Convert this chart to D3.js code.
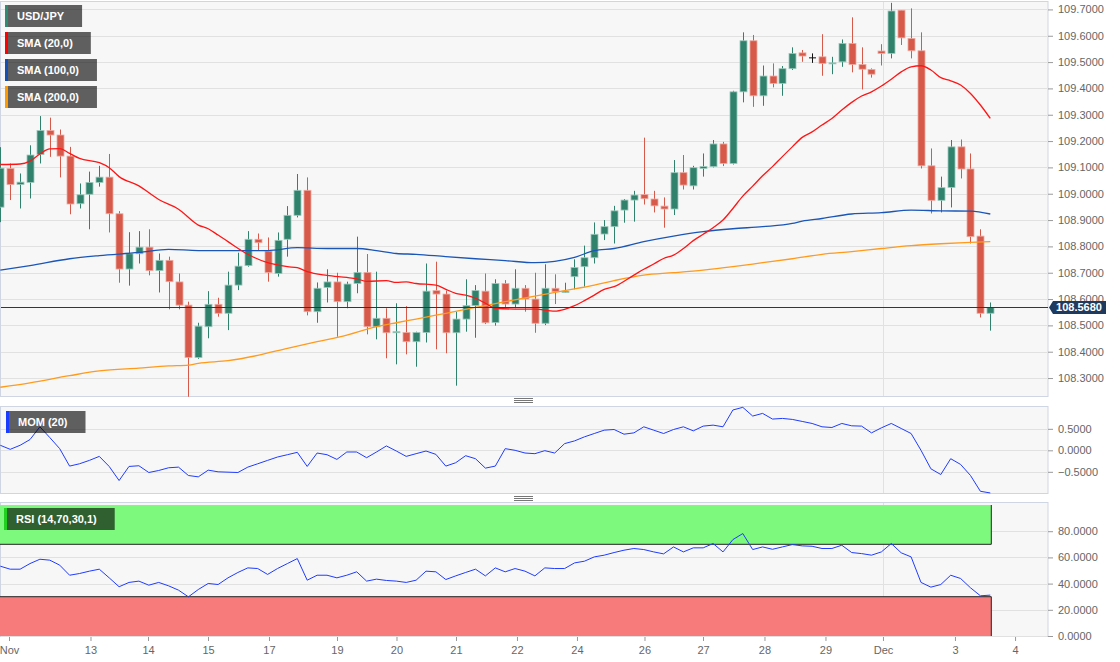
<!DOCTYPE html>
<html>
<head>
<meta charset="utf-8">
<script src="https://d3js.org/d3.v7.min.js"></script>
<style>
body { margin: 0; background: #fff; }
svg text { font-family: "Liberation Sans", Arial, sans-serif; }
</style>
</head>
<body>
<div id="chart"></div>
<script>

// ---- data (4h candles, index 0..100) ----
var opens  = [108.949,109.096,109.035,109.043,109.149,109.240,109.223,109.143,108.962,108.998,
              109.043,109.063,108.924,108.714,108.772,108.797,108.708,108.747,108.665,108.577,
              108.378,108.495,108.580,108.546,108.653,108.727,108.827,108.782,108.697,108.827,
              108.918,109.013,108.552,108.644,108.665,108.590,108.659,108.701,108.495,108.527,
              108.472,108.473,108.438,108.473,108.632,108.619,108.472,108.524,108.575,108.630,
              108.511,108.659,108.581,108.641,108.600,108.508,108.641,108.625,108.685,108.723,
              108.757,108.847,108.875,108.938,108.976,108.997,108.980,108.953,108.942,109.080,
              109.030,109.096,109.103,109.189,109.115,109.387,109.581,109.372,109.447,109.419,
              109.475,109.535,109.518,109.520,109.495,109.501,109.571,109.491,109.472,109.542,
              109.533,109.697,109.590,109.543,109.106,108.975,109.024,109.178,109.094,108.839,
              108.546];
var highs  = [109.177,109.115,109.077,109.184,109.295,109.289,109.244,109.178,109.039,109.084,
              109.106,109.151,108.934,108.854,108.858,108.865,108.773,108.761,108.697,108.590,
              108.510,108.630,108.605,108.704,108.776,108.858,108.849,108.834,108.853,108.953,
              109.075,109.062,108.663,108.713,108.700,108.666,108.837,108.771,108.704,108.565,
              108.584,108.573,108.476,108.735,108.742,108.632,108.552,108.675,108.653,108.697,
              108.675,108.672,108.713,108.653,108.700,108.732,108.694,108.662,108.751,108.803,
              108.891,108.900,108.954,108.980,109.011,109.213,109.011,108.986,109.128,109.147,
              109.106,109.153,109.204,109.197,109.391,109.613,109.603,109.487,109.495,109.485,
              109.556,109.546,109.533,109.606,109.520,109.586,109.670,109.556,109.476,109.568,
              109.725,109.697,109.704,109.613,109.172,109.065,109.204,109.206,109.153,108.865,
              108.587];
var lows   = [108.892,108.976,108.944,108.982,109.115,109.140,109.062,108.922,108.944,108.865,
              109.027,108.853,108.662,108.651,108.735,108.690,108.625,108.561,108.561,108.229,
              108.373,108.451,108.533,108.482,108.634,108.723,108.786,108.666,108.685,108.761,
              108.910,108.538,108.510,108.587,108.457,108.565,108.622,108.466,108.447,108.375,
              108.352,108.390,108.343,108.435,108.409,108.394,108.271,108.476,108.453,108.505,
              108.499,108.565,108.565,108.552,108.472,108.501,108.581,108.624,108.637,108.647,
              108.735,108.824,108.811,108.890,108.894,108.959,108.929,108.871,108.919,109.016,
              109.016,109.065,109.100,109.105,109.111,109.347,109.330,109.334,109.404,109.372,
              109.470,109.501,109.497,109.448,109.454,109.482,109.461,109.396,109.441,109.487,
              109.514,109.565,109.514,109.096,108.925,108.929,108.948,109.058,108.811,108.530,
              108.480];
var closes = [109.097,109.035,109.044,109.147,109.240,109.223,109.143,108.961,108.996,109.043,
              109.063,108.924,108.714,108.772,108.797,108.708,108.747,108.666,108.577,108.378,
              108.497,108.580,108.546,108.653,108.725,108.827,108.814,108.701,108.823,108.918,
              109.013,108.552,108.641,108.665,108.590,108.657,108.701,108.495,108.527,108.472,
              108.476,108.438,108.473,108.630,108.619,108.472,108.524,108.575,108.632,108.510,
              108.659,108.581,108.641,108.600,108.508,108.641,108.628,108.630,108.720,108.757,
              108.846,108.875,108.935,108.976,108.995,108.981,108.954,108.942,109.080,109.033,
              109.099,109.103,109.189,109.115,109.387,109.581,109.372,109.447,109.419,109.475,
              109.533,109.523,109.518,109.495,109.497,109.571,109.491,109.473,109.454,109.533,
              109.694,109.592,109.543,109.106,108.975,109.023,109.178,109.094,108.837,108.546,
              108.568];

// moving averages as [candle index, value]
var sma20 = [[0,109.111],[2,109.113],[3,109.124],[4,109.151],[5,109.170],[6,109.171],[7,109.153],[8,109.134],
             [10,109.118],[11,109.099],[12,109.065],[14,109.030],[16,108.978],[18,108.941],[20,108.881],
             [21,108.867],[22,108.843],[23,108.818],[25,108.770],[27,108.738],[29,108.723],[30,108.719],
             [31,108.704],[33,108.690],[35,108.682],[36,108.677],[37,108.667],[39,108.670],[40,108.663],
             [41,108.665],[42,108.659],[44,108.653],[45,108.637],[46,108.622],[47,108.615],[48,108.603],
             [49,108.584],[50,108.565],[52,108.562],[54,108.562],[56,108.554],[57,108.561],[58,108.575],
             [59,108.594],[60,108.615],[61,108.637],[62,108.647],[64,108.691],[65,108.713],[66,108.733],
             [67,108.754],[68,108.767],[69,108.792],[70,108.822],[71,108.846],[72,108.871],[73,108.900],
             [74,108.944],[75,108.991],[76,109.029],[77,109.068],[78,109.103],[79,109.141],[80,109.178],
             [81,109.214],[82,109.235],[83,109.261],[84,109.286],[85,109.318],[86,109.347],[87,109.371],
             [88,109.387],[89,109.409],[90,109.435],[91,109.463],[92,109.482],[93,109.486],[94,109.470],
             [95,109.441],[96,109.429],[97,109.413],[98,109.381],[99,109.337],[100,109.286]];
var sma100 = [[0,108.710],[3,108.727],[7,108.753],[10,108.765],[14,108.777],[17,108.789],[20,108.784],
              [23,108.784],[27,108.784],[30,108.795],[33,108.792],[36,108.792],[38,108.784],[40,108.773],
              [42,108.770],[45,108.761],[48,108.753],[51,108.746],[54,108.738],[56,108.743],[58,108.758],
              [60,108.784],[62,108.792],[65,108.818],[68,108.839],[71,108.856],[74,108.867],[77,108.875],
              [80,108.887],[81,108.896],[83,108.906],[86,108.923],[89,108.928],[92,108.938],[95,108.935],
              [98,108.934],[100,108.923]];
var sma200 = [[0,108.265],[3,108.282],[7,108.309],[10,108.327],[14,108.338],[17,108.346],[19,108.349],
              [20,108.356],[23,108.366],[26,108.386],[29,108.413],[32,108.438],[35,108.463],[38,108.495],
              [40,108.510],[42,108.524],[45,108.546],[48,108.568],[51,108.590],[54,108.611],[57,108.632],
              [60,108.653],[62,108.670],[65,108.691],[68,108.700],[71,108.710],[74,108.723],[77,108.738],
              [80,108.753],[83,108.770],[86,108.780],[89,108.792],[92,108.803],[95,108.810],[98,108.815],
              [100,108.818]];

var mom = [0.117,0.023,0.117,0.25,0.547,0.297,0.039,-0.367,-0.313,-0.234,
           -0.141,-0.375,-0.703,-0.375,-0.359,-0.516,-0.469,-0.406,-0.391,-0.586,
           -0.617,-0.461,-0.5,-0.508,-0.516,-0.391,-0.313,-0.234,-0.156,-0.102,
           -0.047,-0.375,-0.063,-0.102,-0.211,-0.039,-0.039,-0.172,-0.039,0.102,
           -0.016,-0.141,-0.078,-0.016,-0.094,-0.367,-0.289,-0.125,-0.195,-0.414,
           -0.367,0.039,0,-0.063,-0.078,-0.008,-0.063,0.156,0.219,0.313,
           0.391,0.469,0.484,0.375,0.406,0.547,0.469,0.391,0.484,0.547,
           0.453,0.563,0.586,0.547,0.938,1.0,0.797,0.859,0.727,0.742,
           0.719,0.672,0.625,0.547,0.531,0.625,0.570,0.563,0.406,0.523,
           0.625,0.508,0.391,0,-0.43,-0.563,-0.195,-0.328,-0.586,-0.953,
           -0.992];
var rsi = [53.3,51.0,51.0,55.3,58.6,57.9,54.1,46.4,47.7,49.5,
           51.0,44.4,37.6,40.9,41.9,38.8,40.9,38.3,35.0,29.9,
           35.5,40.1,39.3,44.4,48.5,52.0,51.5,47.0,51.5,55.3,
           59.1,42.6,46.4,46.4,44.4,46.4,49.0,41.9,43.4,42.4,
           41.9,40.9,42.6,49.5,49.0,43.1,45.9,48.5,51.0,45.9,
           52.0,49.0,51.5,49.5,45.9,52.0,51.5,51.5,55.8,57.1,
           60.4,61.7,63.7,65.5,66.8,66.0,64.2,62.7,68.0,64.2,
           67.3,67.3,70.6,64.2,73.6,78.2,66.0,68.0,66.2,68.0,
           69.8,68.8,68.5,66.8,66.8,69.3,63.7,62.9,61.7,64.2,
           70.6,63.5,60.4,40.9,37.3,39.3,46.4,43.9,36.8,30.7,
           31.2];

var lastPrice = 108.568;
var priceTicks = [108.3,108.4,108.5,108.6,108.7,108.8,108.9,109.0,109.1,109.2,109.3,109.4,109.5,109.6,109.7];
var momTicks = [-0.5, 0, 0.5];
var rsiTicks = [0, 20, 40, 60, 80];
var xTickIdx    = [0.88, 9.11, 14.92, 20.98, 27.14, 34.01, 40.02, 46.03, 52.19, 58.25, 65.07, 70.98, 77.19, 83.35, 89.16, 96.43, 102.5];
var xTickLabels = ["Nov","13","14","15","17","19","20","21","22","24","26","27","28","29","Dec","3","4"];
var monthLineIdx = 89.16;

// ---- layout ----
var W = 1120, H = 662, plotR = 1048;
var svg = d3.select("#chart").append("svg").attr("width", W).attr("height", H);

var x = d3.scaleLinear().domain([0, 100]).range([0.3, 990.3]);
var yMain = d3.scaleLinear().domain([108.228, 109.732]).range([397, 1]);
var yMom = d3.scaleLinear().domain([-1.016, 1.031]).range([494, 406]);
var yRsi = d3.scaleLinear().domain([0, 102.3]).range([636, 502]);

function panel(id, y0, y1) {
  svg.append("clipPath").attr("id", id).append("rect")
    .attr("x", 0).attr("y", y0).attr("width", plotR).attr("height", y1 - y0);
  svg.append("rect")
    .attr("x", 0.5).attr("y", y0 + 0.5).attr("width", plotR - 0.5).attr("height", y1 - y0 - 1)
    .attr("fill", "#f7f7f7").attr("stroke", "#cfd5e3");
}
panel("clipMain", 1, 397);
panel("clipMom", 406, 494);
panel("clipRsi", 502, 637);

function grid(scale, ticks, y0, y1) {
  var g = svg.append("g");
  g.selectAll("line.h").data(ticks).enter().append("line")
    .attr("x1", 1).attr("x2", plotR - 1)
    .attr("y1", function(d){ return Math.round(scale(d)) + 0.5; })
    .attr("y2", function(d){ return Math.round(scale(d)) + 0.5; })
    .attr("stroke", "#e1e1e1");
  g.append("line")
    .attr("x1", Math.round(x(monthLineIdx)) + 0.5).attr("x2", Math.round(x(monthLineIdx)) + 0.5)
    .attr("y1", y0).attr("y2", y1).attr("stroke", "#e1e1e1");
}
grid(yMain, priceTicks, 2, 396);
grid(yMom, momTicks, 407, 493);
grid(yRsi, rsiTicks, 503, 636);

// ---- candles ----
var up = "#31826d", dn = "#d6594a";
var idx = d3.range(opens.length);
var cg = svg.append("g").attr("clip-path", "url(#clipMain)");
function col(i) {
  if (opens[i] === closes[i]) return "#111";
  return closes[i] > opens[i] ? up : dn;
}
cg.selectAll("line.wick").data(idx).enter().append("line")
  .attr("x1", function(i){ return Math.round(x(i)) + 0.5; })
  .attr("x2", function(i){ return Math.round(x(i)) + 0.5; })
  .attr("y1", function(i){ return yMain(highs[i]); })
  .attr("y2", function(i){ return yMain(lows[i]); })
  .attr("stroke", col);
cg.selectAll("rect.body").data(idx).enter().append("rect")
  .attr("x", function(i){ return Math.round(x(i)) - 3; })
  .attr("width", 7)
  .attr("y", function(i){ return yMain(Math.max(opens[i], closes[i])); })
  .attr("height", function(i){ return Math.max(1, Math.abs(yMain(opens[i]) - yMain(closes[i]))); })
  .attr("fill", col)
  .attr("stroke", function(i){ return opens[i] === closes[i] ? "none" : (closes[i] > opens[i] ? "#9cc9bc" : "#eeaaa1"); })
  .attr("stroke-width", 0.8);

// ---- moving averages ----
var smaLine = d3.line().x(function(d){ return x(d[0]); }).y(function(d){ return yMain(d[1]); }).curve(d3.curveMonotoneX);
cg.append("path").datum(sma200).attr("d", smaLine).attr("fill", "none").attr("stroke", "#ff9a1c").attr("stroke-width", 1.3);
cg.append("path").datum(sma100).attr("d", smaLine).attr("fill", "none").attr("stroke", "#1a56b8").attr("stroke-width", 1.3);
cg.append("path").datum(sma20).attr("d", smaLine).attr("fill", "none").attr("stroke", "#ff1515").attr("stroke-width", 1.3);

// last price line
svg.append("line").attr("x1", 1).attr("x2", plotR)
  .attr("y1", yMain(lastPrice)).attr("y2", yMain(lastPrice))
  .attr("stroke", "#1f3a5c").attr("stroke-width", 1.1);

// ---- MOM ----
var idxLine = function(sc) {
  return d3.line().x(function(d, i){ return x(i); }).y(function(d){ return sc(d); });
};
svg.append("g").attr("clip-path", "url(#clipMom)").append("path").datum(mom)
  .attr("d", idxLine(yMom)).attr("fill", "none").attr("stroke", "#1f3cff").attr("stroke-width", 1);

// ---- RSI ----
var rg = svg.append("g").attr("clip-path", "url(#clipRsi)");
var bandR = x(100) + 1;
rg.append("rect").attr("x", 0).attr("width", bandR).attr("y", yRsi(100)).attr("height", yRsi(70) - yRsi(100)).attr("fill", "#7dfa7d");
rg.append("rect").attr("x", 0).attr("width", bandR).attr("y", yRsi(30)).attr("height", yRsi(0) - yRsi(30)).attr("fill", "#f87b7b");
[70, 30].forEach(function(v){
  rg.append("line").attr("x1", 0).attr("x2", bandR).attr("y1", yRsi(v)).attr("y2", yRsi(v)).attr("stroke", "#222");
});
rg.append("line").attr("x1", bandR).attr("x2", bandR).attr("y1", yRsi(100)).attr("y2", yRsi(70)).attr("stroke", "#222");
rg.append("line").attr("x1", bandR).attr("x2", bandR).attr("y1", yRsi(30)).attr("y2", yRsi(0)).attr("stroke", "#222");
rg.append("path").datum(rsi).attr("d", idxLine(yRsi)).attr("fill", "none").attr("stroke", "#1f3cff").attr("stroke-width", 1);

// ---- axes ----
function styleAxis(g) {
  g.select(".domain").remove();
  g.selectAll(".tick line").attr("stroke", "#999");
  g.selectAll(".tick text").attr("fill", "#666").attr("font-size", "11px").attr("font-family", "Liberation Sans, Arial, sans-serif");
}
svg.append("g").attr("transform", "translate(" + plotR + ",0)")
  .call(d3.axisRight(yMain).tickValues(priceTicks).tickFormat(d3.format(".4f")).tickSize(5).tickPadding(5))
  .call(styleAxis);
svg.append("g").attr("transform", "translate(" + plotR + ",0)")
  .call(d3.axisRight(yMom).tickValues(momTicks).tickFormat(d3.format(".4f")).tickSize(5).tickPadding(5))
  .call(styleAxis);
svg.append("g").attr("transform", "translate(" + plotR + ",0)")
  .call(d3.axisRight(yRsi).tickValues(rsiTicks).tickFormat(d3.format(".4f")).tickSize(5).tickPadding(5))
  .call(styleAxis);
svg.append("g").attr("transform", "translate(0,637)")
  .call(d3.axisBottom(x).tickValues(xTickIdx).tickFormat(function(d, i){ return xTickLabels[i]; }).tickSize(4).tickPadding(5))
  .call(styleAxis);

// last price tag (covers the 108.6000 label as in the original)
var ty = yMain(lastPrice);
svg.append("path")
  .attr("d", "M" + (plotR + 1) + "," + ty + "L" + (plotR + 5) + "," + (ty - 6.5) + "H1106V" + (ty + 6.5) + "H" + (plotR + 5) + "Z")
  .attr("fill", "#1e3b5f");
svg.append("text").attr("x", 1079).attr("y", ty + 4).attr("text-anchor", "middle")
  .attr("fill", "#fff").attr("font-size", "11px").attr("font-weight", "bold").text(lastPrice.toFixed(4));

// ---- legend boxes ----
function label(txt, stripe, x0, y0) {
  var g = svg.append("g");
  var t = g.append("text").attr("x", x0 + 12).attr("y", y0 + 15).attr("fill", "#fff")
    .attr("font-size", "11px").attr("font-weight", "bold").text(txt);
  var w = t.node().getComputedTextLength() + 30;
  g.insert("rect", "text").attr("x", x0).attr("y", y0).attr("width", w).attr("height", 22).attr("fill", "rgba(0,0,0,0.615)");
  g.insert("rect", "text").attr("x", x0).attr("y", y0).attr("width", 3).attr("height", 22).attr("fill", stripe);
}
label("USD/JPY", "#2e8b72", 5, 5);
label("SMA (20,0)", "#ff0000", 5, 32);
label("SMA (100,0)", "#1450b4", 5, 59);
label("SMA (200,0)", "#ff9900", 5, 86);
label("MOM (20)", "#1a3cff", 6, 411);
label("RSI (14,70,30,1)", "#22d022", 4, 508);

// panel resize handles
[400.5, 498.5].forEach(function(cy){
  [-2, 0, 2].forEach(function(o){
    svg.append("line").attr("x1", 514).attr("x2", 533).attr("y1", cy + o).attr("y2", cy + o).attr("stroke", "#777");
  });
});

</script>
</body>
</html>
